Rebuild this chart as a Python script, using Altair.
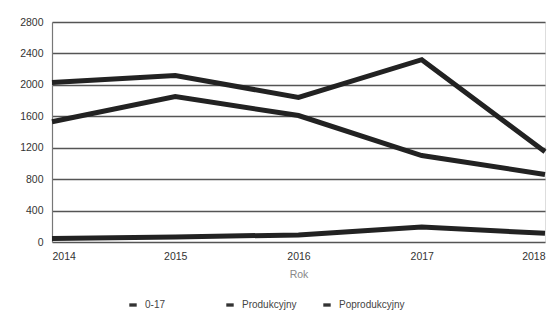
import altair as alt
import pandas as pd

years = [2014, 2015, 2016, 2017, 2018]
series_names = ["0-17", "Produkcyjny", "Poprodukcyjny"]
vals_0_17 = [1530, 1850, 1610, 1100, 860]
vals_prod = [2030, 2120, 1840, 2320, 1150]
vals_poprod = [45, 65, 90, 190, 110]
y_ticks = [0, 400, 800, 1200, 1600, 2000, 2400, 2800]

rows = []
for name, vals in zip(series_names, [vals_0_17, vals_prod, vals_poprod]):
    for yr, v in zip(years, vals):
        rows.append({"Rok": yr, "Wartość": v, "Seria": name})
df = pd.DataFrame(rows)

font = "Liberation Sans"

chart = alt.Chart(df).mark_line(strokeWidth=5, strokeCap="butt", strokeJoin="miter").encode(
    x=alt.X("Rok:Q",
            scale=alt.Scale(domain=[2014, 2018], nice=False, zero=False),
            axis=alt.Axis(values=years, format="d", title="Rok", grid=False, ticks=False,
                          domain=False, labelPadding=9, labelFontSize=10.5, labelColor="#333",
                          labelFontWeight="normal", titleFontSize=10.5, titleColor="#888",
                          titleFontWeight="normal", titlePadding=8, labelFont=font, titleFont=font)),
    y=alt.Y("Wartość:Q",
            scale=alt.Scale(domain=[0, 2800], nice=False),
            axis=alt.Axis(values=y_ticks, format="d", title=None, grid=True, gridColor="#555",
                          gridWidth=1.4, ticks=False, domain=True, domainColor="#777",
                          domainWidth=1.2, labelPadding=9, labelFontSize=10.5, labelColor="#333",
                          labelFontWeight="normal", labelFont=font)),
    color=alt.Color("Seria:N",
                    scale=alt.Scale(domain=series_names, range=["#222222", "#222222", "#222222"]),
                    legend=alt.Legend(title=None, orient="none", direction="horizontal",
                                      legendX=76, legendY=278, gridAlign="all",
                                      symbolType="M-1,-0.45L1,-0.45L1,0.45L-1,0.45Z",
                                      symbolSize=55, symbolStrokeWidth=0,
                                      symbolFillColor="#333",
                                      labelFontSize=10, labelColor="#444", labelFont=font,
                                      columnPadding=14, labelOffset=7)),
    detail="Seria:N",
).properties(
    width=493,
    height=220,
    autosize=alt.AutoSizeParams(type="none"),
    padding={"left": 44, "top": 14, "right": 6, "bottom": 80},
).configure_view(stroke=None).configure(background="white")

chart.save("out.html", embed_options={"renderer": "svg", "actions": False})
